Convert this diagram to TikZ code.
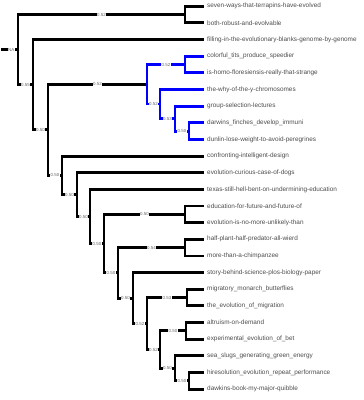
\documentclass[tikz,border=0pt]{standalone}
\usepackage{fontspec}
\setmainfont{Liberation Sans}
\usetikzlibrary{positioning}

\begin{document}
\begin{tikzpicture}[
    x=1pt, y=-1pt,
    br/.style={line width=2.9pt, black},
    brb/.style={line width=2.9pt, blue},
    leaf/.style={anchor=west, inner xsep=3pt, inner ysep=0pt, font=\fontsize{6.4}{7}\selectfont, text=black!70},
    lbl/.style={fill=white, inner sep=0.4pt, font=\fontsize{4.4}{4.4}\selectfont, text=black!60},
  ]
  \useasboundingbox (0,0) rectangle (364,400);
  % joints of the tree
  \coordinate (stub) at (1,49.6);
  \coordinate (root) at (18,49.6);
  \coordinate (pa) at (185,14.5);
  \coordinate (na) at (33,84.6);
  \coordinate (nb) at (48,129.8);
  \coordinate (nc) at (147,84.25);
  \coordinate (pb) at (185,64.5);
  \coordinate (nd) at (160,104.0);
  \coordinate (ne) at (175,118.6);
  \coordinate (pc) at (189,131.1);
  \coordinate (np) at (62,175.3);
  \coordinate (ng) at (77,194.6);
  \coordinate (nh) at (90,216.5);
  \coordinate (ni) at (104,243.6);
  \coordinate (pd) at (185,214.3);
  \coordinate (nj) at (118,272.85);
  \coordinate (pe) at (185,247.6);
  \coordinate (nk) at (133,298.1);
  \coordinate (nl) at (147,323.6);
  \coordinate (pf) at (187,297.6);
  \coordinate (nm) at (160,349.6);
  \coordinate (pg) at (186,330.9);
  \coordinate (nn) at (175,368.3);
  \coordinate (ph) at (189,380.8);
  % leaves
  \foreach \n/\y/\t in {
    l1/6.2/seven-ways-that-terrapins-have-evolved,
    l2/22.85/both-robust-and-evolvable,
    l3/39.5/filling-in-the-evolutionary-blanks-genome-by-genome/,
    l4/56.15/colorful\_tits\_produce\_speedier,
    l5/72.8/is-homo-floresiensis-really-that-strange,
    l6/89.45/the-why-of-the-y-chromosomes,
    l7/106.1/group-selection-lectures,
    l8/122.75/darwins\_finches\_develop\_immuni,
    l9/139.4/dunlin-lose-weight-to-avoid-peregrines,
    l10/156.05/confronting-intelligent-design,
    l11/172.7/evolution-curious-case-of-dogs,
    l12/189.35/texas-still-hell-bent-on-undermining-education,
    l13/206.0/education-for-future-and-future-of,
    l14/222.65/evolution-is-no-more-unlikely-than,
    l15/239.3/half-plant-half-predator-all-wierd,
    l16/255.95/more-than-a-chimpanzee,
    l17/272.6/story-behind-science-plos-biology-paper,
    l18/289.25/migratory\_monarch\_butterflies,
    l19/305.9/the\_evolution\_of\_migration,
    l20/322.55/altruism-on-demand,
    l21/339.2/experimental\_evolution\_of\_bet,
    l22/355.85/sea\_slugs\_generating\_green\_energy,
    l23/372.5/hiresolution\_evolution\_repeat\_performance,
    l24/389.15/dawkins-book-my-major-quibble}{
    \node[leaf] (\n) at (204,\y) {\t};
  }
  % branches
  \draw[br] (stub) -- node[lbl, pos=0.6]{NA} (root);
  \foreach \p/\c/\v in {root/pa/0.52, root/na/0.55, na/nb/0.50, nb/nc/0.52,
      nb/np/0.50, np/ng/0.50, ng/nh/0.50, nh/ni/0.50, ni/pd/0.50, ni/nj/0.50,
      nj/pe/0.54, nj/nk/0.50, nk/nl/0.52, nl/pf/0.53, nl/nm/0.52, nm/pg/0.50,
      nm/nn/0.50, nn/ph/0.50}{
    \draw[br] (\p) |- node[lbl, pos=0.75]{\v} (\c);
  }
  \foreach \p/\c/\v in {nc/pb/0.52, nc/nd/0.52, nd/ne/0.53, ne/pc/0.50}{
    \draw[brb] (\p) |- node[lbl, pos=0.75]{\v} (\c);
  }
  \foreach \p/\c in {pa/l1, pa/l2, na/l3, np/l10, ng/l11, nh/l12, pd/l13, pd/l14,
      pe/l15, pe/l16, nk/l17, pf/l18, pf/l19, pg/l20, pg/l21, nn/l22, ph/l23, ph/l24}{
    \draw[br] (\p) |- (\c.west);
  }
  \foreach \p/\c in {pb/l4, pb/l5, nd/l6, ne/l7, pc/l8, pc/l9}{
    \draw[brb] (\p) |- (\c.west);
  }
\end{tikzpicture}
\end{document}
